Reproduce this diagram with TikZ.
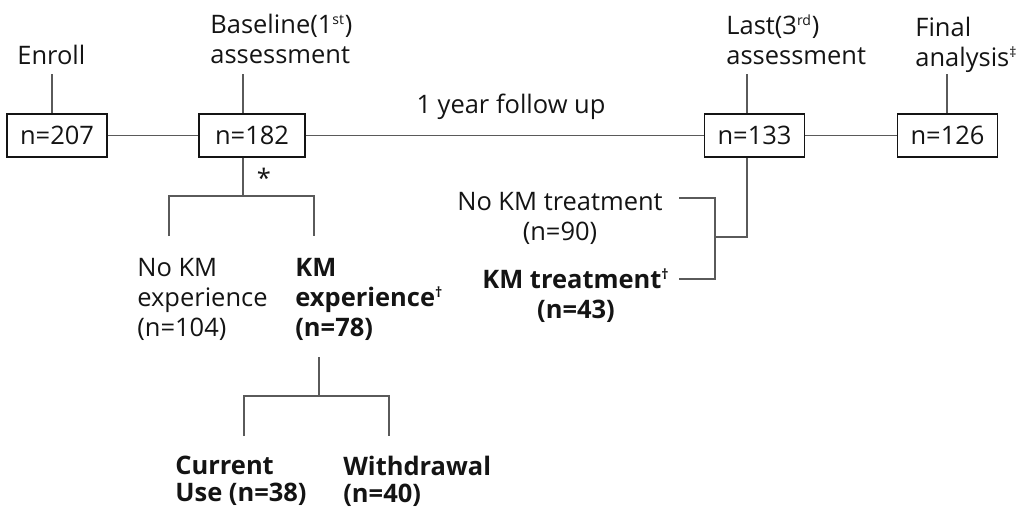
\documentclass[tikz,border=0pt]{standalone}
\usepackage{fontspec}
\setmainfont{Open Sans}
\usetikzlibrary{positioning,calc}
\definecolor{lineGray}{RGB}{90,90,90}
\definecolor{textDark}{RGB}{20,20,20}
\newcommand{\smsup}[1]{\textsuperscript{\fontsize{8}{8}\selectfont #1}}

\begin{document}
\begin{tikzpicture}[x=0.02cm,y=-0.02cm,
    nbox/.style={draw=textDark, line width=0.6pt, minimum width=2cm,
      minimum height=0.86cm, inner sep=0pt, text=textDark,
      font=\fontsize{14.5}{17}\selectfont},
    lbl/.style={inner sep=0pt, align=left, anchor=north west, text=textDark,
      font=\fontsize{14.5}{17}\selectfont},
    blbl/.style={lbl, font=\fontsize{14.5}{17}\selectfont\bfseries},
    link/.style={draw=lineGray, line width=0.8pt},
  ]
    \useasboundingbox (0,0) rectangle (1016,508);

    % time line
    \node[nbox] (n207) at (57,135.5) {n=207};
    \node[nbox, minimum width=2.12cm] (n182) at (252,135.5) {n=182};
    \node[nbox] (n133) at (754.5,135.5) {n=133};
    \node[nbox] (n126) at (947.5,135.5) {n=126};

    \node[lbl] (enroll) at (17,45) {Enroll};
    \node[lbl] (base) at (210,14) {Baseline(1\smsup{st})\\assessment};
    \node[lbl] (last) at (726,14) {Last(3\smsup{rd})\\assessment};
    \node[lbl] (final) at (915,17) {Final\\analysis\smsup{‡}};
    \node[lbl, anchor=base] (follow) at (511,113) {1 year follow up};

    \coordinate (enrollTick) at (52,74);
    \coordinate (baseTick) at (243,74);
    \coordinate (lastTick) at (747,74);
    \coordinate (finalTick) at (947,74);
    \draw[link] (enrollTick) -- (enrollTick |- n207.north);
    \draw[link] (baseTick) -- (baseTick |- n182.north);
    \draw[link] (lastTick) -- (lastTick |- n133.north);
    \draw[link] (finalTick) -- (finalTick |- n126.north);

    \draw[link] (n207) -- (n182);
    \draw[link] (n182) -- (n133);
    \draw[link] (n133) -- (n126);

    % baseline split
    \coordinate (split1) at (243,196);
    \coordinate (noExpTop) at (169,236);
    \coordinate (expTop) at (314,236);
    \draw[link] (split1 |- n182.south) -- (split1);
    \draw[link] (noExpTop) |- (split1) -| (expTop);
    \node[lbl, anchor=center] (star) at (264,178) {*};

    \node[lbl] (noexp) at (137,258) {No KM\\experience\\(n=104)};
    \node[blbl] (exp) at (295,258) {KM\\experience\smsup{†}\\(n=78)};

    % experience split
    \coordinate (expBottom) at (319,357);
    \coordinate (split2) at (319,396);
    \coordinate (curTop) at (244,436);
    \coordinate (wdTop) at (389,436);
    \draw[link] (expBottom) -- (split2);
    \draw[link] (curTop) |- (split2) -| (wdTop);

    \node[blbl, font=\fontsize{14.5}{15}\selectfont\bfseries] (current) at (175,456) {Current\\Use (n=38)};
    \node[blbl, font=\fontsize{14.5}{15}\selectfont\bfseries] (withdraw) at (343,456) {Withdrawal\\(n=40)};

    % last assessment split
    \coordinate (split3) at (747,237);
    \coordinate (joint3) at (715,237);
    \coordinate (noTreatEnd) at (679,198);
    \coordinate (treatEnd) at (679,279);
    \draw[link] (split3 |- n133.south) -- (split3) -- (joint3);
    \draw[link] (noTreatEnd) -| (joint3) |- (treatEnd);

    \node[lbl, align=center, anchor=north] (notreat) at (560,192) {No KM treatment\\(n=90)};
    \node[blbl, align=center, anchor=north] (treat) at (576,268) {KM treatment\smsup{†}\\(n=43)};
\end{tikzpicture}
\end{document}
